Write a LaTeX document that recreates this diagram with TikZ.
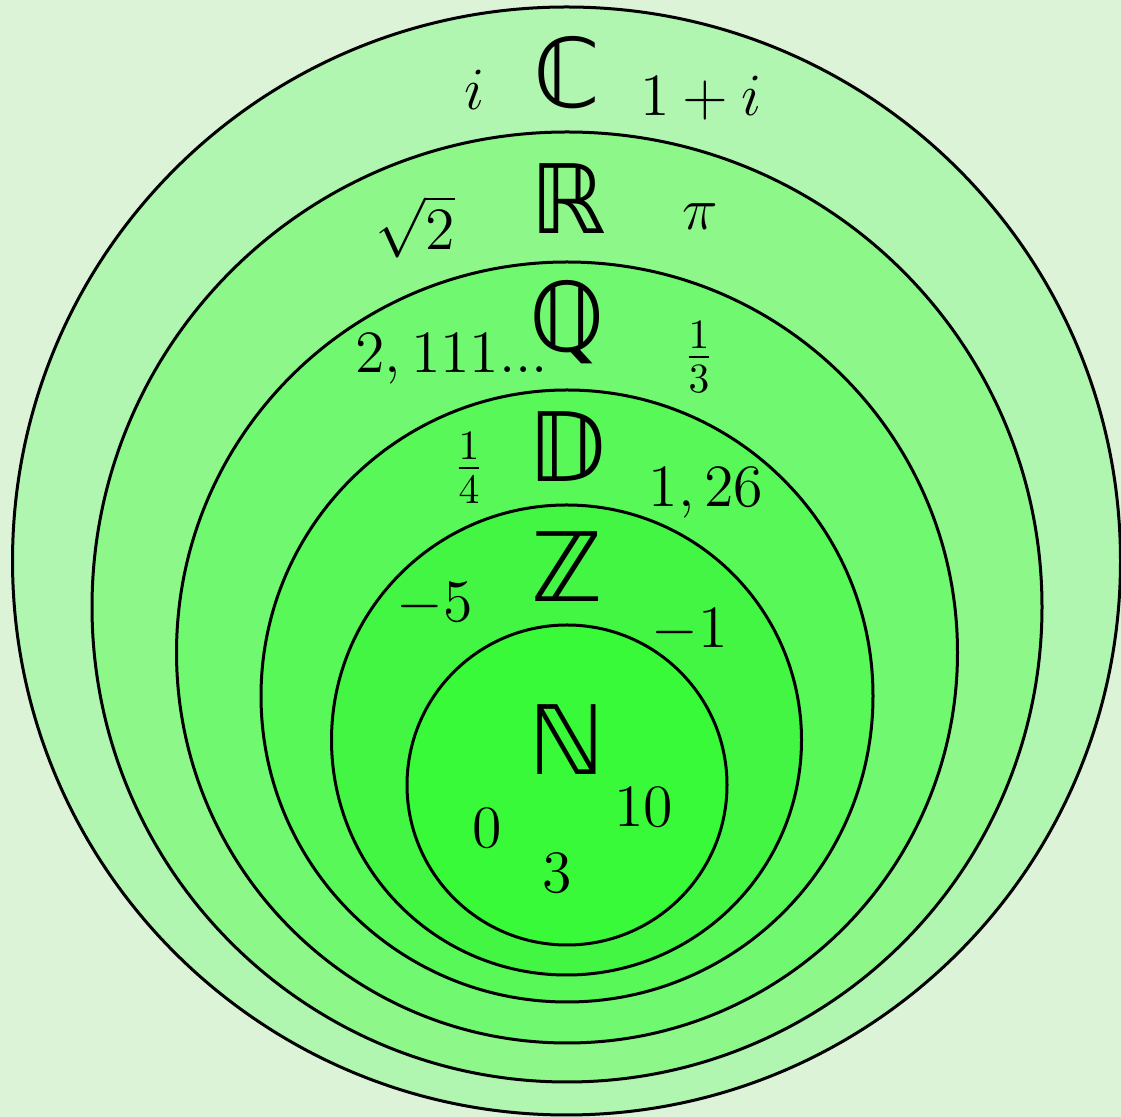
\documentclass[tikz,border=0pt]{standalone}
\usepackage{amsmath}
\usepackage{fontspec}
\newfontfamily\dsfam{DejaVu Sans}
\definecolor{bgc}{RGB}{220,243,216}
\definecolor{fillC}{RGB}{176,245,176}
\definecolor{fillR}{RGB}{142,247,138}
\definecolor{fillQ}{RGB}{112,248,112}
\definecolor{fillD}{RGB}{88,248,88}
\definecolor{fillZ}{RGB}{68,246,68}
\definecolor{fillN}{RGB}{56,250,56}
\begin{document}
\begin{tikzpicture}[x=0.24pt,y=-0.24pt,
  ring/.style={draw=black,line width=0.72pt},
  setlbl/.style={inner sep=0pt,font=\dsfam\fontsize{23}{28}\selectfont},
  numlbl/.style={inner sep=0pt,anchor=base,font=\Large}]
\fill[bgc] (0,0) rectangle (1121,1117);
\useasboundingbox (0,0) rectangle (1121,1117);
\filldraw[ring,fill=fillC] (566.5,561) circle[radius=132.96pt];
\filldraw[ring,fill=fillR] (567,607) circle[radius=114pt];
\filldraw[ring,fill=fillQ] (567,652.5) circle[radius=93.72pt];
\filldraw[ring,fill=fillD] (567,696) circle[radius=73.44pt];
\filldraw[ring,fill=fillZ] (566.5,740) circle[radius=56.4pt];
\filldraw[ring,fill=fillN] (567,785) circle[radius=38.4pt];
% set symbols
\node[setlbl] (symC) at (567,73) {ℂ};
\node[setlbl] (symR) at (568,199) {ℝ};
\node[setlbl] (symQ) at (567,322) {ℚ};
\node[setlbl] (symD) at (567,447) {𝔻};
\node[setlbl] (symZ) at (567,567) {ℤ};
\node[setlbl] (symN) at (567,740) {ℕ};
% elements
\node[numlbl] (ci) at (475,110) {$i$};
\node[numlbl] (c1i) at (701,116) {$1+i$};
\node[numlbl] (rsq) at (415,250) {$\sqrt{2}$};
\node[numlbl] (rpi) at (700,230) {$\pi$};
\node[numlbl] (qdec) at (452,373) {$2,111...$};
\node[numlbl] (qthird) at (699,372) {$\frac{1}{3}$};
\node[numlbl] (dquart) at (469,483) {$\frac{1}{4}$};
\node[numlbl] (ddec) at (706,507) {$1,26$};
\node[numlbl] (zm5) at (435,622) {$-5$};
\node[numlbl] (zm1) at (690,648) {$-1$};
\node[numlbl] (n0) at (487,848) {$0$};
\node[numlbl] (n10) at (644,827) {$10$};
\node[numlbl] (n3) at (557,893) {$3$};
\end{tikzpicture}
\end{document}
